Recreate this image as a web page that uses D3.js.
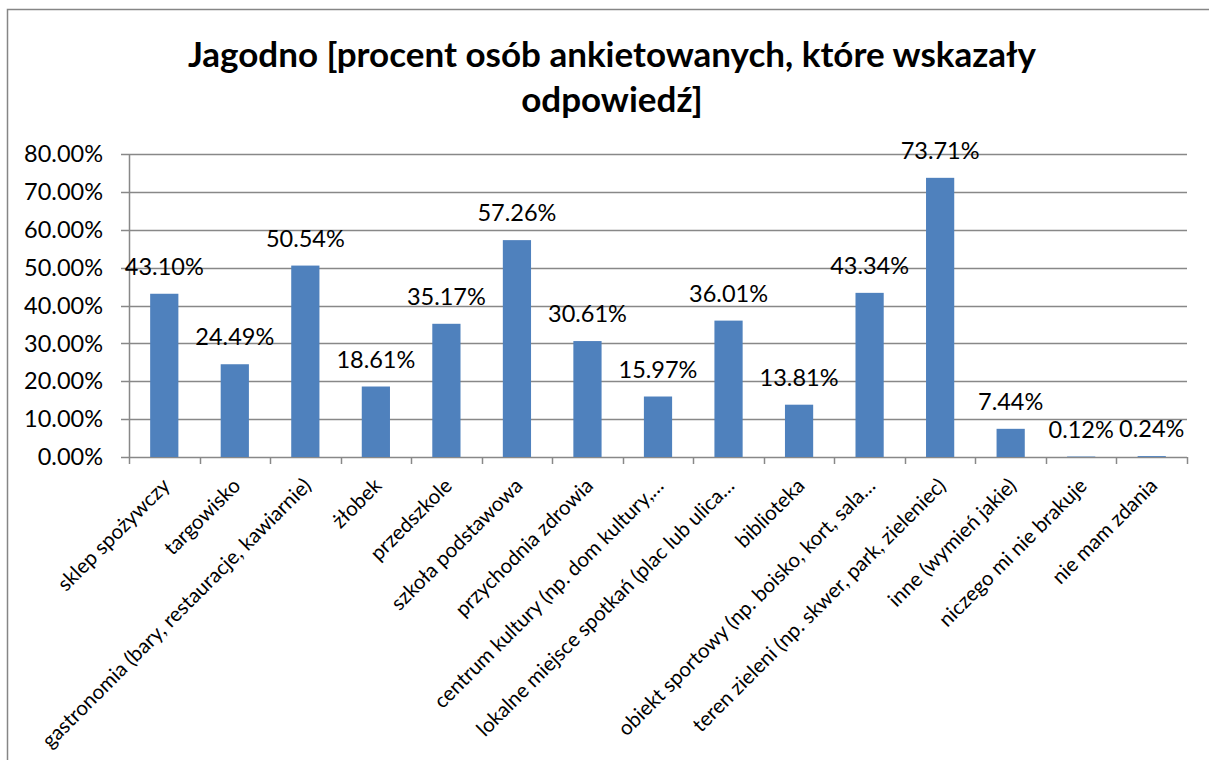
<!DOCTYPE html>
<html>
<head>
<meta charset="utf-8">
<script src="https://cdn.jsdelivr.net/npm/d3@7"></script>
<style>
  body { margin: 0; background: #fff; }
  text { font-family: Lato, "Open Sans", sans-serif; }
</style>
</head>
<body>
<div id="chart"></div>
<script>
// Chart values
const titleLines = ["Jagodno [procent osób ankietowanych, które wskazały", "odpowiedź]"];

const categories = [
    "sklep spożywczy",
    "targowisko",
    "gastronomia (bary, restauracje, kawiarnie)",
    "żłobek",
    "przedszkole",
    "szkoła podstawowa",
    "przychodnia zdrowia",
    "centrum kultury (np. dom kultury,…",
    "lokalne miejsce spotkań (plac lub ulica…",
    "biblioteka",
    "obiekt sportowy (np. boisko, kort, sala…",
    "teren zieleni (np. skwer, park, zieleniec)",
    "inne (wymień jakie)",
    "niczego mi nie brakuje",
    "nie mam zdania"
];

const values = [43.10, 24.49, 50.54, 18.61, 35.17, 57.26, 30.61, 15.97, 36.01, 13.81, 43.34, 73.71, 7.44, 0.12, 0.24];

const yTicks = [0, 10, 20, 30, 40, 50, 60, 70, 80];

class BarChart {

    constructor(parentElement) {
        this.parentElement = parentElement;
        this.displayData = categories.map((c, i) => ({name: c, value: values[i]}));
        this.initVis();
    }

    initVis() {
        let vis = this;

        vis.width = 1209;
        vis.height = 760;
        vis.margin = {top: 154, left: 129, right: 22, bottom: 303};
        vis.innerW = vis.width - vis.margin.left - vis.margin.right;
        vis.innerH = vis.height - vis.margin.top - vis.margin.bottom;

        vis.svgRoot = d3.select('#' + vis.parentElement)
            .append('svg')
            .attr('width', vis.width)
            .attr('height', vis.height);

        // outer frame of the chart area
        vis.svgRoot.append('rect')
            .attr('x', 7.5)
            .attr('y', 9.5)
            .attr('width', 1220)
            .attr('height', 800)
            .attr('fill', 'none')
            .attr('stroke', '#868686')
            .attr('stroke-width', 1.5);

        // title
        vis.svgRoot.append('text')
            .attr('text-anchor', 'middle')
            .attr('font-weight', 'bold')
            .attr('font-size', 35)
            .attr('fill', '#000')
            .selectAll('tspan')
            .data(titleLines)
            .join('tspan')
            .attr('x', 612)
            .attr('y', (d, i) => 67 + i * 45)
            .text(d => d);

        vis.svg = vis.svgRoot.append('g')
            .attr('transform', `translate(${vis.margin.left}, ${vis.margin.top})`);

        vis.x = d3.scaleBand()
            .domain(categories)
            .range([0, vis.innerW])
            .paddingInner(0.6)
            .paddingOuter(0.3);

        vis.y = d3.scaleLinear()
            .domain([0, 80])
            .range([vis.innerH, 0]);

        vis.updateVis();
    }

    updateVis() {
        let vis = this;
        const grey = '#888888';

        // gridlines + y ticks
        vis.svg.selectAll('.grid')
            .data(yTicks)
            .join('line')
            .attr('class', 'grid')
            .attr('x1', -8)
            .attr('x2', vis.innerW)
            .attr('y1', d => Math.round(vis.y(d)) + 0.5)
            .attr('y2', d => Math.round(vis.y(d)) + 0.5)
            .attr('stroke', grey)
            .attr('stroke-width', 1.5);

        vis.svg.selectAll('.ylab')
            .data(yTicks)
            .join('text')
            .attr('class', 'ylab')
            .attr('x', -26)
            .attr('y', d => vis.y(d))
            .attr('dy', '0.35em')
            .attr('text-anchor', 'end')
            .attr('font-size', 23.5)
            .attr('fill', '#000')
            .text(d => d3.format('.2f')(d) + '%');

        // y axis line
        vis.svg.append('line')
            .attr('x1', 0.5).attr('x2', 0.5)
            .attr('y1', 0).attr('y2', vis.innerH)
            .attr('stroke', grey)
            .attr('stroke-width', 1.5);

        // x tick marks at band boundaries
        const step = vis.x.step();
        const bounds = d3.range(categories.length + 1).map(i => i * step);
        vis.svg.selectAll('.xtick')
            .data(bounds)
            .join('line')
            .attr('class', 'xtick')
            .attr('x1', d => Math.round(d) + 0.5)
            .attr('x2', d => Math.round(d) + 0.5)
            .attr('y1', vis.innerH)
            .attr('y2', vis.innerH + 7)
            .attr('stroke', grey)
            .attr('stroke-width', 1.5);

        // bars
        vis.svg.selectAll('.bar')
            .data(vis.displayData)
            .join('rect')
            .attr('class', 'bar')
            .attr('x', d => vis.x(d.name))
            .attr('width', vis.x.bandwidth())
            .attr('y', d => vis.y(d.value))
            .attr('height', d => vis.innerH - vis.y(d.value))
            .attr('fill', '#4F81BD');

        // data labels
        vis.svg.selectAll('.vlab')
            .data(vis.displayData)
            .join('text')
            .attr('class', 'vlab')
            .attr('x', d => vis.x(d.name) + vis.x.bandwidth() / 2)
            .attr('y', d => vis.y(d.value) - 19)
            .attr('text-anchor', 'middle')
            .attr('font-size', 23.5)
            .attr('fill', '#000')
            .text(d => d3.format('.2f')(d.value) + '%');

        // rotated category labels
        vis.svg.selectAll('.xlab')
            .data(vis.displayData)
            .join('text')
            .attr('class', 'xlab')
            .attr('text-anchor', 'end')
            .attr('font-size', 20.5)
            .attr('fill', '#000')
            .attr('transform', d => {
                const cx = vis.x(d.name) + vis.x.bandwidth() / 2 + 7;
                return `translate(${cx}, ${vis.innerH + 30}) rotate(-45)`;
            })
            .text(d => d.name);
    }
}

new BarChart('chart');
</script>
</body>
</html>
